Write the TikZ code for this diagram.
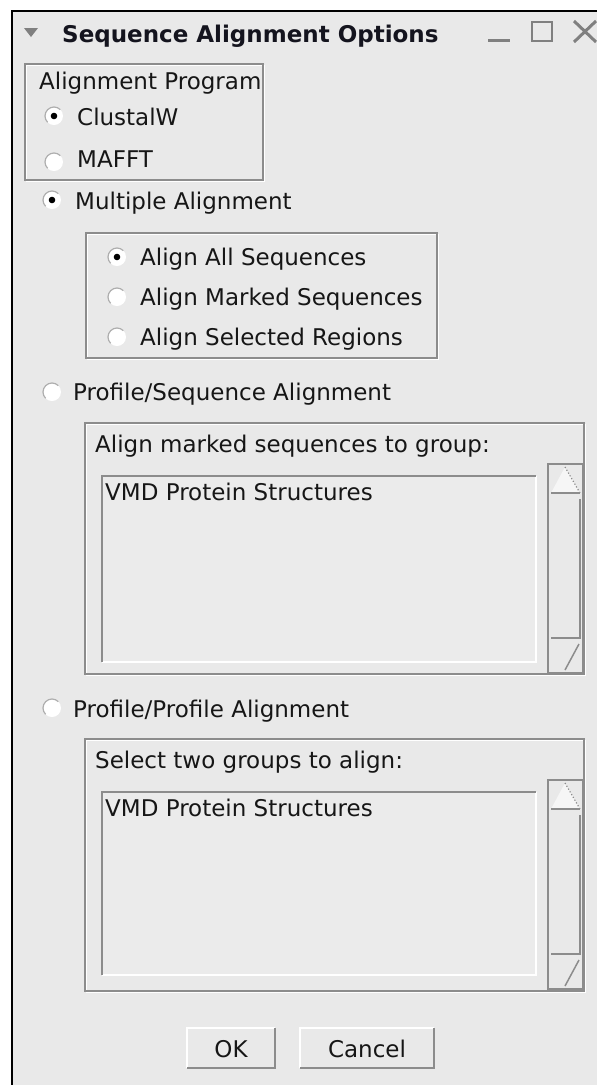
\documentclass[tikz,border=0pt]{standalone}
\usepackage{fontspec}
\setmainfont{DejaVu Sans}
\definecolor{bg}{HTML}{E9E9E9}
\definecolor{listbg}{HTML}{EBEBEB}
\definecolor{edge}{HTML}{8C8C8C}
\definecolor{ink}{HTML}{161616}
\definecolor{titleink}{HTML}{14141E}
\definecolor{icon}{HTML}{808080}
\newcommand\uigroove[4]{%
  \draw[white, line width=1.3] (#1+1.5,#2+1.5) rectangle (#3+1.5,#4+1.5);
  \draw[edge, line width=1.3] (#1,#2) rectangle (#3,#4);}
\newcommand\uisunken[4]{%
  \fill[listbg] (#1,#2) rectangle (#3,#4);
  \draw[white, line width=2.2] (#1,#4) -- (#3,#4) -- (#3,#2);
  \draw[edge, line width=1.3] (#1,#4) -- (#1,#2) -- (#3,#2);}
\newcommand\uiraised[4]{%
  \draw[white, line width=1.8] (#1,#4) -- (#1,#2) -- (#3,#2);
  \draw[edge, line width=1.8] (#1,#4) -- (#3,#4) -- (#3,#2);}
\newcommand\uiradio[2]{%
  \fill[white] (#1,#2) circle[radius=9];
  \draw[edge!70, line width=1.2] ([shift={(#1,#2)}]135:9) arc[start angle=135, end angle=315, radius=9];}
\newcommand\uidot[2]{\fill[black] (#1,#2) circle[radius=3.3];}
\newcommand\uiscroll[2]{%
  \draw[edge, line width=1.3] (548,#1) rectangle (583,#2);
  \fill[white!60!bg] (565,#1+3) -- (580,#1+29) -- (551,#1+29) -- cycle;
  \draw[edge, line width=1.2, dotted] (565,#1+3) -- (580,#1+29);
  \draw[edge, line width=1.5] (551,#1+29) -- (580,#1+29);
  \draw[edge, line width=1.5] (551,#1+174) -- (580,#1+174) -- (580,#1+35);
  \draw[edge, line width=1.5] (565,#2-3) -- (579,#2-29);}
\begin{document}
\begin{tikzpicture}[x=1pt, y=-1pt,
  lbl/.style={anchor=base west, inner sep=0pt, text=ink, font=\fontsize{23}{27}\selectfont},
  btnlbl/.style={anchor=base, inner sep=0pt, text=ink, font=\fontsize{23}{27}\selectfont}]
\useasboundingbox (0,0) rectangle (597,1085);
\clip (0,0) rectangle (597,1085);
\fill[white] (0,0) rectangle (597,1085);
\fill[bg] (12,11) rectangle (597,1085);
\draw[black, line width=2] (12,1090) -- (12,11) -- (600,11);
% title bar
\fill[icon] (24,28) -- (38,28) -- (31,37) -- cycle;
\node[lbl, font=\bfseries\fontsize{23}{27}\selectfont, text=titleink] (title) at (62,42) {Sequence Alignment Options};
\draw[icon, line width=3] (488,40) -- (510,40);
\draw[icon, line width=2.5] (532,22) rectangle (552,41);
\draw[icon, line width=3] (574,21) -- (596,42) (596,21) -- (574,42);
% alignment program group
\uigroove{25}{64}{263}{180}
\node[lbl] (prog) at (39,89) {Alignment Program};
\uiradio{54}{116}\uidot{54}{116}
\node[lbl] (clustal) at (77,125) {ClustalW};
\uiradio{54}{162}
\node[lbl] (mafft) at (77,167) {MAFFT};
% multiple alignment
\uiradio{52}{200}\uidot{52}{200}
\node[lbl] (multi) at (75,209) {Multiple Alignment};
\uigroove{86}{233}{437}{358}
\uiradio{117}{257}\uidot{117}{257}
\node[lbl] (all) at (140,265) {Align All Sequences};
\uiradio{117}{297}
\node[lbl] (marked) at (140,305) {Align Marked Sequences};
\uiradio{117}{337}
\node[lbl] (regions) at (140,345) {Align Selected Regions};
% profile/sequence
\uiradio{52}{392}
\node[lbl] (profseq) at (73,400) {Profile/Sequence Alignment};
\uigroove{85}{423}{584}{674}
\node[lbl] (grp1) at (95,452) {Align marked sequences to group:};
\uisunken{102}{476}{536}{662}
\node[lbl] (vmd1) at (105,500) {VMD Protein Structures};
\uiscroll{464}{673}
% profile/profile
\uiradio{52}{708}
\node[lbl] (profprof) at (73,717) {Profile/Profile Alignment};
\uigroove{85}{739}{584}{991}
\node[lbl] (grp2) at (95,768) {Select two groups to align:};
\uisunken{102}{792}{536}{975}
\node[lbl] (vmd2) at (105,816) {VMD Protein Structures};
\uiscroll{780}{989}
% buttons
\uiraised{187}{1028}{275}{1068}
\node[btnlbl] (ok) at (231,1057) {OK};
\uiraised{300}{1028}{434}{1068}
\node[btnlbl] (cancel) at (367,1057) {Cancel};
\end{tikzpicture}
\end{document}
